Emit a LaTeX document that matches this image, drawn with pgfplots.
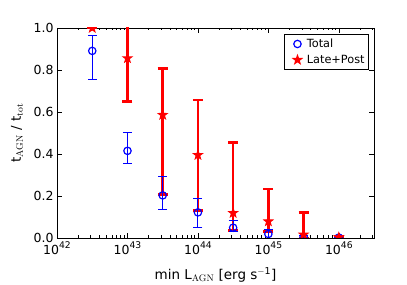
\documentclass[border=0pt]{standalone}
\usepackage{fontspec}
\setsansfont{DejaVu Sans}
\renewcommand{\familydefault}{\sfdefault}
\usepackage{pgfplots}
\pgfplotsset{compat=1.18}
\usepackage{pgfplotstable}

\newcommand{\tp}[1]{10\raisebox{0.48em}{\fontsize{9.2}{9.2}\selectfont #1}}

\pgfdeclareplotmark{fstar}{%
  \pgfpathmoveto{\pgfpointpolar{90}{\pgfplotmarksize}}%
  \pgfpathlineto{\pgfpointpolar{126}{0.4\pgfplotmarksize}}%
  \pgfpathlineto{\pgfpointpolar{162}{\pgfplotmarksize}}%
  \pgfpathlineto{\pgfpointpolar{198}{0.4\pgfplotmarksize}}%
  \pgfpathlineto{\pgfpointpolar{234}{\pgfplotmarksize}}%
  \pgfpathlineto{\pgfpointpolar{270}{0.4\pgfplotmarksize}}%
  \pgfpathlineto{\pgfpointpolar{306}{\pgfplotmarksize}}%
  \pgfpathlineto{\pgfpointpolar{342}{0.4\pgfplotmarksize}}%
  \pgfpathlineto{\pgfpointpolar{18}{\pgfplotmarksize}}%
  \pgfpathlineto{\pgfpointpolar{54}{0.4\pgfplotmarksize}}%
  \pgfpathclose
  \pgfusepathqfillstroke
}

\pgfplotstableread{
x y ep em
3.1623e42 0.891 0.074 0.135
1e43 0.415 0.087 0.062
3.1623e43 0.203 0.090 0.065
1e44 0.122 0.065 0.070
3.1623e44 0.049 0.035 0.020
1e45 0.019 0.022 0.019
3.1623e45 0.005 0.006 0.005
1e46 0.002 0.002 0.002
}\totaltab

\pgfplotstableread{
x y ep em
3.1623e42 1.000 0.000 0.000
1e43 0.856 0.200 0.206
3.1623e43 0.586 0.222 0.380
1e44 0.395 0.263 0.264
3.1623e44 0.119 0.336 0.083
1e45 0.079 0.154 0.049
3.1623e45 0.016 0.106 0.016
1e46 0.003 0.003 0.003
}\latetab

\begin{document}
\begin{tikzpicture}
\begin{axis}[
  scale only axis,
  width=317pt, height=210pt,
  xmode=log,
  xmin=1e42, xmax=3.1623e46,
  ymin=0, ymax=1,
  xtick={1e42,1e43,1e44,1e45,1e46},
  xticklabels={\tp{42},\tp{43},\tp{44},\tp{45},\tp{46}},
  minor xtick={2e42,3e42,4e42,5e42,6e42,7e42,8e42,9e42,
    2e43,3e43,4e43,5e43,6e43,7e43,8e43,9e43,
    2e44,3e44,4e44,5e44,6e44,7e44,8e44,9e44,
    2e45,3e45,4e45,5e45,6e45,7e45,8e45,9e45,
    2e46,3e46},
  ytick={0,0.2,0.4,0.6,0.8,1.0},
  yticklabel style={/pgf/number format/.cd, fixed, fixed zerofill, precision=1},
  /pgf/number format/assume math mode=true,
  tick align=inside,
  major tick length=5pt,
  minor tick length=2.5pt,
  every tick/.style={black, line width=0.6pt},
  axis line style={line width=0.9pt, black},
  tick label style={font=\fontsize{12.5}{14}\selectfont},
  label style={font=\fontsize{13.5}{15}\selectfont},
  xlabel={min L\textsubscript{\rmfamily AGN} [erg s\textsuperscript{$-$1}]},
  ylabel={t\textsubscript{\rmfamily AGN} / t\textsubscript{\rmfamily tot}},
  xlabel style={at={(axis description cs:0.5,0)}, anchor=center, yshift=-37pt},
  ylabel style={at={(axis description cs:0,0.5)}, anchor=center, yshift=40pt},
  clip marker paths=true,
  legend style={at={(1,1)}, xshift=-5pt, yshift=-6pt, anchor=north east,
    draw=black, line width=0.9pt, font=\fontsize{11.3}{13}\selectfont,
    row sep=2pt, inner xsep=2pt, inner ysep=2.5pt},
  legend image code/.code={%
    \pgfpathrectangle{\pgfpoint{-0.4cm}{-0.1cm}}{\pgfpoint{0.66cm}{0.2cm}}\pgfusepath{}%
    \draw[#1] plot coordinates {(0cm,0cm)};},
  legend cell align=left,
]
% legend entries
\addlegendimage{mark=o, mark size=3.7pt, blue, line width=1.2pt}
\addlegendentry{Total}
\addlegendimage{mark=fstar, mark size=4.6pt, red, line width=1pt}
\addlegendentry{Late+Post}
% red error bars
\addplot[forget plot, draw=none, mark=none, red,
  error bars/.cd, y dir=both, y explicit,
  error bar style={line width=2.6pt, red},
  error mark options={line width=2.6pt, mark size=5pt, red, rotate=90}]
  table[x=x, y=y, y error plus=ep, y error minus=em] {\latetab};
% blue error bars and circles
\addplot[forget plot, only marks, mark=o, mark size=3.7pt, blue, line width=1.2pt,
  error bars/.cd, y dir=both, y explicit,
  error bar style={line width=0.9pt, blue},
  error mark options={line width=0.9pt, mark size=4.5pt, blue, rotate=90}]
  table[x=x, y=y, y error plus=ep, y error minus=em] {\totaltab};
% red stars
\addplot[forget plot, only marks, mark=fstar, mark size=4.6pt, red, line width=1pt]
  table[x=x, y=y] {\latetab};
\end{axis}
\path (current axis.south west) ++(-57pt,-47pt) coordinate (A);
\path (current axis.north east) ++(33pt,28pt) coordinate (B);
\pgfresetboundingbox
\path[use as bounding box] (A) rectangle (B);
\end{tikzpicture}
\end{document}
